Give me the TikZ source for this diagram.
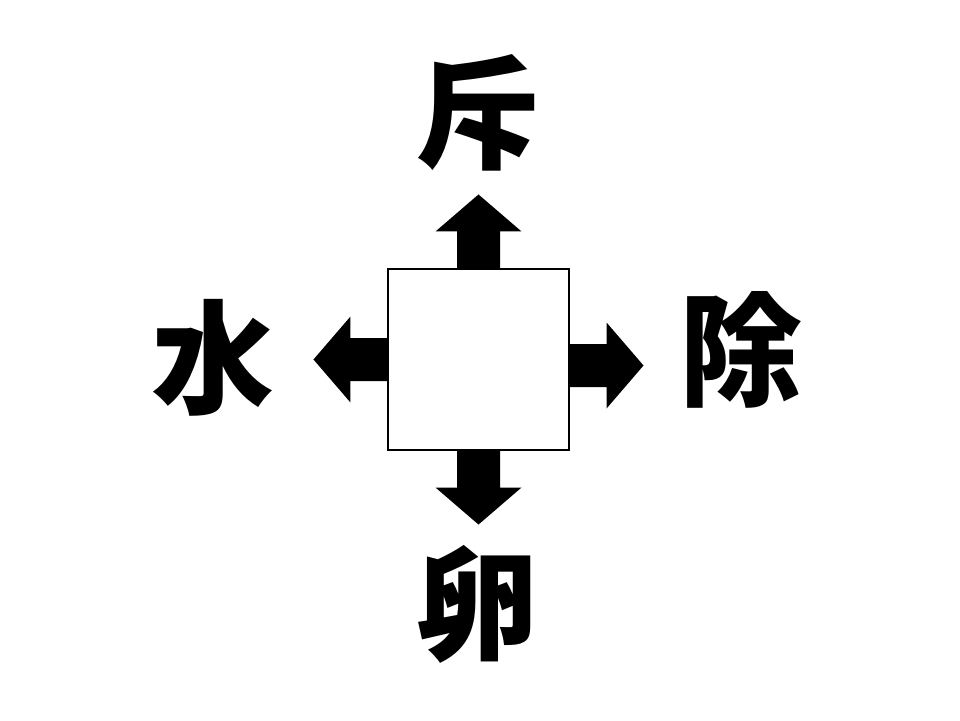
\documentclass[tikz,border=0pt]{standalone}
\usepackage{fontspec}
\usepackage{tikz}
\newfontfamily\cjk{Noto Sans CJK JP}
\tikzset{
	kanji/.style={font=\cjk\bfseries\fontsize{70}{70}\selectfont,inner sep=0pt},
	caisse/.style={draw=black,line width=0.6pt,fill=white,minimum width=181*0.02cm,minimum height=181*0.02cm,inner sep=0pt},
	pics/fleche/.style={code={
		\fill[black] (0,-21.5) -- (37,-21.5) -- (37,-43) -- (74,0) -- (37,43) -- (37,21.5) -- (0,21.5) -- cycle;
	}}
}
\begin{document}
\begin{tikzpicture}[x=0.02cm,y=-0.02cm]
	%
	% Cadre de l'image
	\def\imgW{960}
	\def\imgH{720}
	\useasboundingbox[fill=white] (0,0) rectangle (\imgW,\imgH);
	%
	% Case centrale
	\node[caisse] (case) at (478.5,359.5) {};
	%
	% Fleches
	\pic[rotate=90] at (case.north) {fleche};
	\pic[rotate=-90] at (case.south) {fleche};
	\pic[rotate=180] at (case.west) {fleche};
	\pic at ([yshift=-6*0.02cm]case.east) {fleche};
	%
	% Caracteres
	\node[kanji] (haut) at (478,113) {斥};
	\node[kanji] (bas) at (477,604) {卵};
	\node[kanji] (gauche) at (213,358) {水};
	\node[kanji] (droite) at (741,350) {除};
\end{tikzpicture}
\end{document}
